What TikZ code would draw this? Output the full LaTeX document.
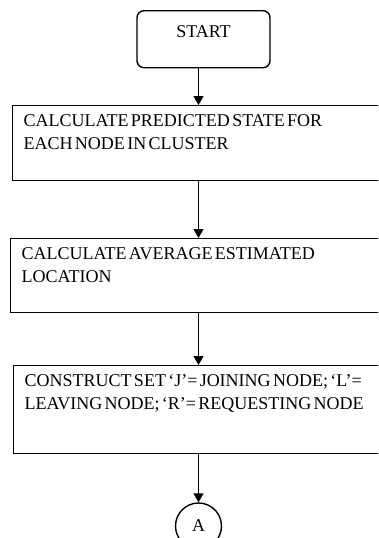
\documentclass[tikz,border=0pt]{standalone}
\usepackage{fontspec}
\setmainfont{Liberation Serif}
\usetikzlibrary{arrows.meta}
\newcommand\tightspaces{\spaceskip=2.3pt plus 1pt\relax\xspaceskip=3pt plus 1pt\relax}
\begin{document}
\begin{tikzpicture}[x=1pt,y=1pt,
    every node/.style={font=\fontsize{18pt}{23pt}\selectfont,execute at begin node=\tightspaces},
    startbox/.style={draw,rounded corners=7pt,line width=1.4pt,minimum width=133pt,inner sep=0pt,text height=27pt,text depth=30pt},
    stepbox/.style={draw,line width=1.4pt,anchor=north west,inner xsep=11pt,inner ysep=0pt,text width=380pt,align=left,text height=21pt},
    conn/.style={draw,circle,line width=1.4pt,minimum size=46pt,inner sep=0pt},
    flow/.style={line width=1.3pt,-{Triangle[width=10pt,length=9pt]}}]
  \useasboundingbox (0,0) rectangle (378,-538);
  \clip (0,0) rectangle (378,-538);
  \draw
    (203.5,-10) node[startbox,anchor=north] (start){START}
    (12,-105) node[stepbox,text depth=54pt] (predict){CALCULATE PREDICTED STATE FOR\\EACH NODE IN CLUSTER}
    (10,-238) node[stepbox,text depth=53pt] (average){CALCULATE AVERAGE ESTIMATED\\LOCATION}
    (13,-365) node[stepbox,text depth=67pt] (construct){CONSTRUCT SET ‘J’= JOINING NODE; ‘L’=\\LEAVING NODE; ‘R’= REQUESTING NODE}
    (198.5,-526) node[conn] (a){A};
  \begin{scope}[flow]
    \draw (start.south -| a) to (predict.north -| a);
    \draw (predict.south -| a) to (average.north -| a);
    \draw (average.south -| a) to (construct.north -| a);
    \draw (construct.south -| a) to (a.north);
  \end{scope}
\end{tikzpicture}
\end{document}
